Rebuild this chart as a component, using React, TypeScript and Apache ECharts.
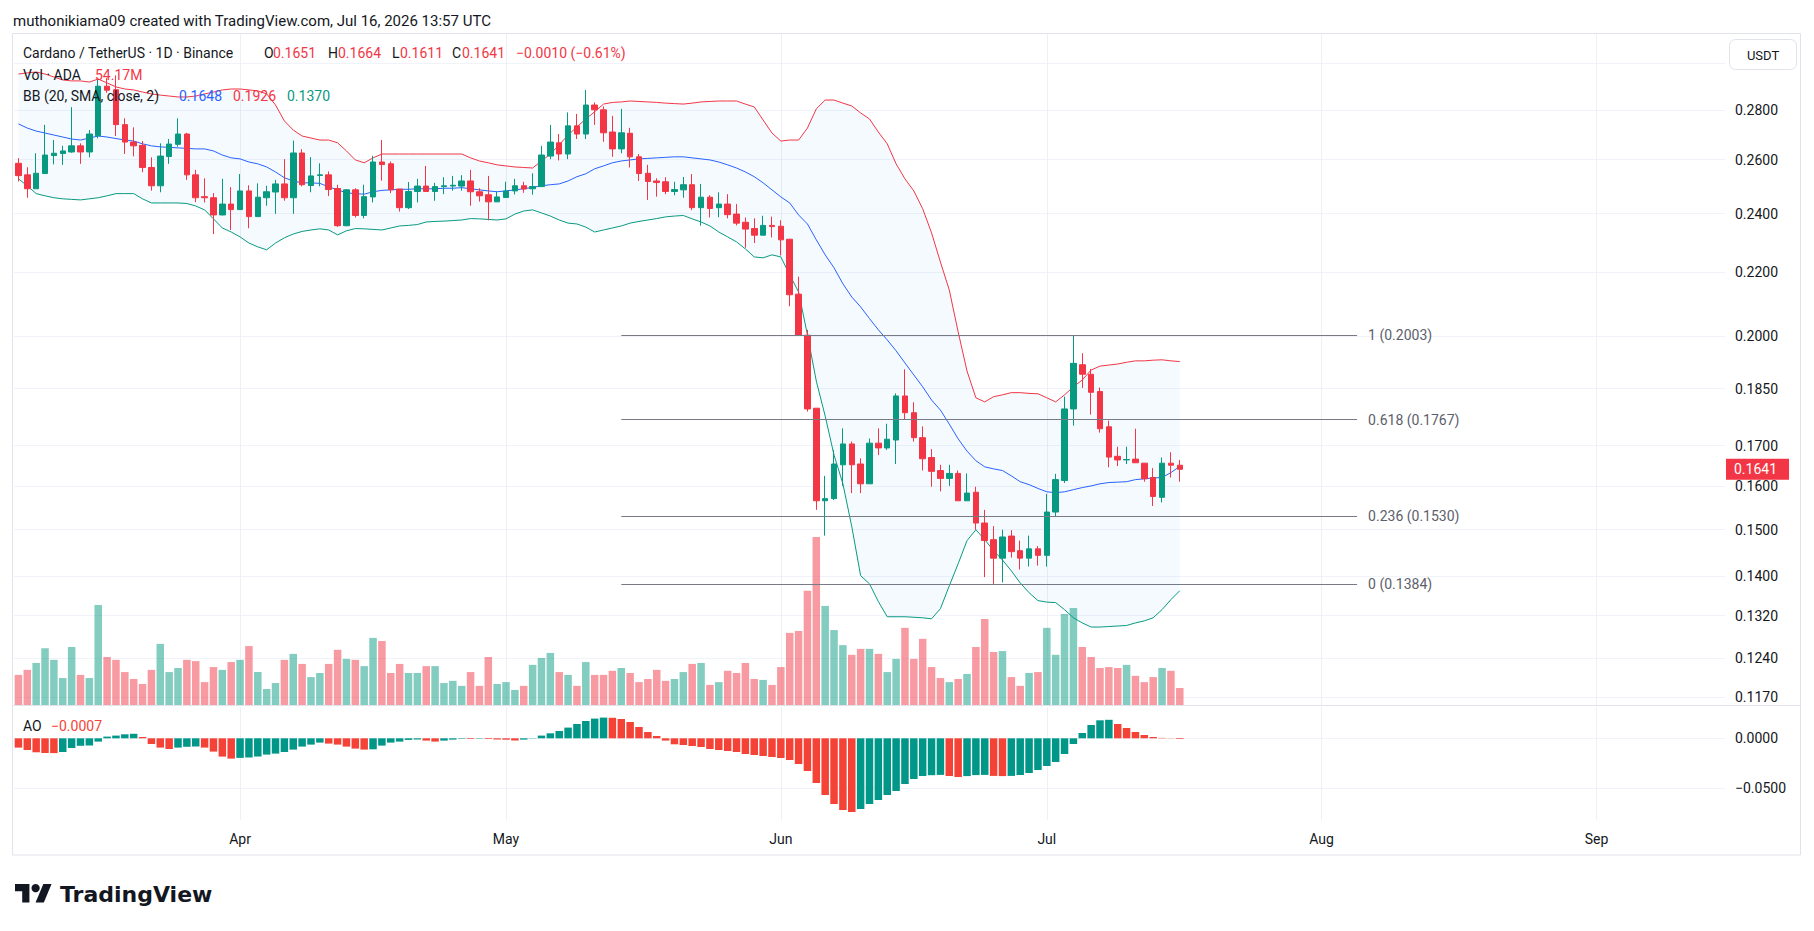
import React, { useEffect, useRef } from 'react';
import * as echarts from 'echarts';

const FONT = 'Roboto, "Noto Sans", "DejaVu Sans", sans-serif';
const TEXT = '#131722';
const UP = '#089981';
const DOWN = '#F23645';

const startDate = '2026-03-07';
const axisDays = 193;
const monthNames = ['Jan', 'Feb', 'Mar', 'Apr', 'May', 'Jun', 'Jul', 'Aug', 'Sep', 'Oct', 'Nov', 'Dec'];

// [open, high, low, close]
const ohlc: number[][] = [
  [0.2586, 0.2606, 0.2517, 0.2539], [0.2542, 0.2571, 0.2457, 0.2490], [0.2490, 0.2625, 0.2490, 0.2548], [0.2547, 0.2738, 0.2547, 0.2618], [0.2616, 0.2677, 0.2582, 0.2625],
  [0.2624, 0.2654, 0.2580, 0.2634], [0.2630, 0.2811, 0.2627, 0.2654], [0.2654, 0.2664, 0.2584, 0.2630], [0.2630, 0.2717, 0.2609, 0.2701], [0.2694, 0.2928, 0.2684, 0.2900],
  [0.2900, 0.2935, 0.2872, 0.2883], [0.2885, 0.2947, 0.2693, 0.2739], [0.2739, 0.2765, 0.2622, 0.2669], [0.2669, 0.2728, 0.2613, 0.2654], [0.2656, 0.2673, 0.2552, 0.2570],
  [0.2570, 0.2609, 0.2483, 0.2501], [0.2501, 0.2664, 0.2477, 0.2614], [0.2612, 0.2681, 0.2584, 0.2661], [0.2660, 0.2765, 0.2651, 0.2701], [0.2701, 0.2706, 0.2523, 0.2542],
  [0.2542, 0.2561, 0.2441, 0.2457], [0.2461, 0.2529, 0.2440, 0.2457], [0.2457, 0.2474, 0.2328, 0.2395], [0.2395, 0.2527, 0.2393, 0.2434], [0.2434, 0.2496, 0.2342, 0.2414],
  [0.2414, 0.2545, 0.2413, 0.2482], [0.2482, 0.2503, 0.2348, 0.2389], [0.2389, 0.2510, 0.2389, 0.2459], [0.2457, 0.2501, 0.2428, 0.2479], [0.2478, 0.2523, 0.2399, 0.2508],
  [0.2508, 0.2602, 0.2446, 0.2457], [0.2457, 0.2675, 0.2399, 0.2626], [0.2626, 0.2641, 0.2499, 0.2505], [0.2502, 0.2610, 0.2477, 0.2538], [0.2540, 0.2586, 0.2499, 0.2542],
  [0.2542, 0.2555, 0.2463, 0.2487], [0.2491, 0.2505, 0.2353, 0.2357], [0.2357, 0.2489, 0.2355, 0.2486], [0.2486, 0.2492, 0.2386, 0.2393], [0.2393, 0.2505, 0.2383, 0.2461],
  [0.2460, 0.2615, 0.2440, 0.2591], [0.2591, 0.2677, 0.2520, 0.2581], [0.2584, 0.2593, 0.2474, 0.2486], [0.2489, 0.2489, 0.2407, 0.2421], [0.2421, 0.2515, 0.2416, 0.2480],
  [0.2480, 0.2527, 0.2440, 0.2500], [0.2500, 0.2576, 0.2478, 0.2480], [0.2480, 0.2512, 0.2446, 0.2498], [0.2498, 0.2533, 0.2470, 0.2501], [0.2500, 0.2538, 0.2483, 0.2503],
  [0.2500, 0.2541, 0.2483, 0.2519], [0.2519, 0.2561, 0.2428, 0.2479], [0.2479, 0.2492, 0.2443, 0.2464], [0.2468, 0.2538, 0.2376, 0.2442], [0.2442, 0.2480, 0.2442, 0.2460],
  [0.2458, 0.2516, 0.2457, 0.2482], [0.2482, 0.2527, 0.2469, 0.2501], [0.2501, 0.2516, 0.2475, 0.2489], [0.2490, 0.2548, 0.2468, 0.2498], [0.2498, 0.2654, 0.2498, 0.2618],
  [0.2614, 0.2738, 0.2602, 0.2669], [0.2666, 0.2701, 0.2597, 0.2622], [0.2622, 0.2789, 0.2602, 0.2734], [0.2734, 0.2783, 0.2681, 0.2701], [0.2701, 0.2884, 0.2681, 0.2820],
  [0.2820, 0.2831, 0.2738, 0.2800], [0.2800, 0.2814, 0.2670, 0.2706], [0.2709, 0.2775, 0.2611, 0.2642], [0.2642, 0.2804, 0.2625, 0.2706], [0.2704, 0.2726, 0.2570, 0.2611],
  [0.2611, 0.2622, 0.2519, 0.2547], [0.2548, 0.2580, 0.2449, 0.2517], [0.2519, 0.2529, 0.2461, 0.2513], [0.2516, 0.2533, 0.2470, 0.2480], [0.2480, 0.2516, 0.2466, 0.2487],
  [0.2486, 0.2534, 0.2457, 0.2505], [0.2505, 0.2545, 0.2412, 0.2421], [0.2421, 0.2508, 0.2357, 0.2459], [0.2459, 0.2466, 0.2386, 0.2418], [0.2421, 0.2477, 0.2387, 0.2434],
  [0.2434, 0.2470, 0.2383, 0.2396], [0.2398, 0.2434, 0.2358, 0.2366], [0.2369, 0.2386, 0.2281, 0.2345], [0.2347, 0.2383, 0.2297, 0.2324], [0.2324, 0.2392, 0.2324, 0.2358],
  [0.2358, 0.2389, 0.2316, 0.2354], [0.2355, 0.2376, 0.2255, 0.2308], [0.2310, 0.2311, 0.2091, 0.2127], [0.2129, 0.2185, 0.2003, 0.2003], [0.2003, 0.2019, 0.1788, 0.1795],
  [0.1797, 0.1797, 0.1545, 0.1566], [0.1566, 0.1625, 0.1487, 0.1571], [0.1571, 0.1689, 0.1568, 0.1654], [0.1652, 0.1744, 0.1601, 0.1704], [0.1704, 0.1710, 0.1584, 0.1652],
  [0.1654, 0.1668, 0.1584, 0.1606], [0.1606, 0.1718, 0.1606, 0.1706], [0.1706, 0.1744, 0.1676, 0.1694], [0.1694, 0.1756, 0.1689, 0.1716], [0.1714, 0.1837, 0.1654, 0.1830],
  [0.1830, 0.1904, 0.1768, 0.1785], [0.1785, 0.1813, 0.1710, 0.1720], [0.1720, 0.1749, 0.1638, 0.1667], [0.1670, 0.1691, 0.1599, 0.1636], [0.1638, 0.1652, 0.1588, 0.1619],
  [0.1619, 0.1652, 0.1601, 0.1631], [0.1631, 0.1638, 0.1566, 0.1566], [0.1566, 0.1631, 0.1566, 0.1584], [0.1586, 0.1599, 0.1500, 0.1515], [0.1515, 0.1545, 0.1398, 0.1476],
  [0.1478, 0.1508, 0.1384, 0.1438], [0.1438, 0.1500, 0.1387, 0.1484], [0.1486, 0.1499, 0.1439, 0.1452], [0.1454, 0.1476, 0.1414, 0.1438], [0.1438, 0.1487, 0.1420, 0.1458],
  [0.1458, 0.1464, 0.1422, 0.1444], [0.1444, 0.1582, 0.1420, 0.1540], [0.1540, 0.1630, 0.1530, 0.1616], [0.1614, 0.1828, 0.1608, 0.1795], [0.1795, 0.2003, 0.1751, 0.1921],
  [0.1917, 0.1950, 0.1852, 0.1890], [0.1890, 0.1905, 0.1780, 0.1840], [0.1842, 0.1853, 0.1733, 0.1743], [0.1748, 0.1764, 0.1646, 0.1671], [0.1673, 0.1697, 0.1649, 0.1664],
  [0.1664, 0.1697, 0.1654, 0.1665], [0.1666, 0.1743, 0.1657, 0.1657], [0.1656, 0.1656, 0.1611, 0.1618], [0.1621, 0.1644, 0.1554, 0.1576], [0.1574, 0.1670, 0.1562, 0.1656],
  [0.1656, 0.1683, 0.1621, 0.1651], [0.1651, 0.1664, 0.1611, 0.1641],
];

// volume, millions of ADA
const volumeM = [
  96, 112, 134, 181, 144, 86, 185, 96, 86, 319,
  153, 144, 105, 83, 67, 112, 195, 105, 118, 144,
  140, 73, 121, 112, 137, 144, 188, 105, 51, 70,
  144, 163, 131, 89, 102, 131, 176, 147, 144, 124,
  214, 204, 102, 131, 102, 102, 124, 124, 70, 77,
  61, 105, 61, 153, 67, 73, 48, 61, 128, 150,
  166, 105, 96, 61, 137, 96, 96, 109, 118, 102,
  73, 83, 112, 77, 83, 105, 131, 134, 64, 73,
  109, 102, 134, 83, 80, 64, 121, 230, 236, 364,
  536, 316, 239, 191, 160, 179, 179, 163, 105, 147,
  246, 147, 211, 121, 86, 73, 83, 99, 185, 274,
  169, 172, 89, 61, 102, 105, 246, 160, 290, 309,
  185, 153, 118, 121, 118, 128, 93, 73, 89, 118,
  109, 54.17,
];

const aoValues = [
  -0.0093, -0.0117, -0.0140, -0.0147, -0.0148, -0.0137, -0.0097, -0.0075, -0.0072, -0.0033,
  0.0017, 0.0027, 0.0040, 0.0045, 0.0013, -0.0057, -0.0093, -0.0107, -0.0093, -0.0085,
  -0.0082, -0.0093, -0.0133, -0.0183, -0.0203, -0.0196, -0.0192, -0.0183, -0.0163, -0.0153,
  -0.0137, -0.0113, -0.0083, -0.0063, -0.0043, -0.0053, -0.0063, -0.0083, -0.0103, -0.0113,
  -0.0110, -0.0073, -0.0043, -0.0033, -0.0016, -0.0012, -0.0023, -0.0033, -0.0023, -0.0013,
  -0.0005, -0.0007, -0.0004, -0.0007, -0.0012, -0.0014, -0.0022, -0.0013, -0.0003, 0.0027,
  0.0050, 0.0073, 0.0107, 0.0143, 0.0173, 0.0197, 0.0207, 0.0205, 0.0193, 0.0163,
  0.0113, 0.0063, 0.0023, -0.0023, -0.0060, -0.0067, -0.0077, -0.0087, -0.0107, -0.0117,
  -0.0127, -0.0137, -0.0157, -0.0167, -0.0177, -0.0187, -0.0197, -0.0217, -0.0257, -0.0327,
  -0.0447, -0.0567, -0.0657, -0.0717, -0.0737, -0.0707, -0.0657, -0.0617, -0.0567, -0.0527,
  -0.0457, -0.0407, -0.0377, -0.0369, -0.0366, -0.0377, -0.0387, -0.0378, -0.0368, -0.0366,
  -0.0376, -0.0378, -0.0376, -0.0367, -0.0347, -0.0317, -0.0277, -0.0237, -0.0157, -0.0057,
  0.0053, 0.0133, 0.0180, 0.0185, 0.0143, 0.0103, 0.0063, 0.0033, 0.0013, 0.0004,
  0.0002, -0.0007,
];

const bbUpper = [
  0.2953, 0.2958, 0.2962, 0.2953, 0.2940, 0.2927, 0.2923, 0.2923, 0.2918, 0.2931,
  0.2914, 0.2897, 0.2888, 0.2884, 0.2875, 0.2867, 0.2862, 0.2858, 0.2854, 0.2854,
  0.2858, 0.2867, 0.2875, 0.2884, 0.2888, 0.2888, 0.2884, 0.2880, 0.2867, 0.2820,
  0.2754, 0.2717, 0.2693, 0.2685, 0.2677, 0.2677, 0.2666, 0.2634, 0.2599, 0.2588,
  0.2607, 0.2622, 0.2622, 0.2622, 0.2622, 0.2622, 0.2622, 0.2622, 0.2622, 0.2622,
  0.2622, 0.2607, 0.2595, 0.2588, 0.2580, 0.2576, 0.2572, 0.2570, 0.2568, 0.2595,
  0.2622, 0.2658, 0.2697, 0.2730, 0.2762, 0.2792, 0.2824, 0.2831, 0.2833, 0.2837,
  0.2835, 0.2833, 0.2831, 0.2828, 0.2826, 0.2824, 0.2828, 0.2833, 0.2835, 0.2837,
  0.2837, 0.2837, 0.2824, 0.2812, 0.2758, 0.2705, 0.2673, 0.2677, 0.2677, 0.2725,
  0.2804, 0.2841, 0.2841, 0.2828, 0.2816, 0.2787, 0.2762, 0.2709, 0.2662, 0.2584,
  0.2527, 0.2482, 0.2417, 0.2332, 0.2233, 0.2142, 0.2013, 0.1899, 0.1825, 0.1814,
  0.1828, 0.1833, 0.1839, 0.1839, 0.1837, 0.1836, 0.1825, 0.1814, 0.1833, 0.1855,
  0.1874, 0.1902, 0.1913, 0.1916, 0.1919, 0.1924, 0.1928, 0.1928, 0.1930, 0.1931,
  0.1928, 0.1926,
];

const bbBasis = [
  0.2742, 0.2725, 0.2713, 0.2705, 0.2697, 0.2689, 0.2681, 0.2677, 0.2685, 0.2693,
  0.2689, 0.2683, 0.2677, 0.2673, 0.2662, 0.2654, 0.2650, 0.2648, 0.2646, 0.2644,
  0.2642, 0.2642, 0.2634, 0.2618, 0.2607, 0.2603, 0.2591, 0.2584, 0.2572, 0.2553,
  0.2531, 0.2519, 0.2512, 0.2512, 0.2510, 0.2497, 0.2486, 0.2475, 0.2472, 0.2470,
  0.2479, 0.2484, 0.2486, 0.2488, 0.2488, 0.2490, 0.2490, 0.2490, 0.2492, 0.2492,
  0.2494, 0.2490, 0.2486, 0.2482, 0.2479, 0.2482, 0.2486, 0.2490, 0.2495, 0.2501,
  0.2505, 0.2508, 0.2519, 0.2535, 0.2546, 0.2565, 0.2576, 0.2588, 0.2595, 0.2599,
  0.2603, 0.2605, 0.2607, 0.2609, 0.2611, 0.2611, 0.2607, 0.2603, 0.2599, 0.2591,
  0.2580, 0.2568, 0.2553, 0.2535, 0.2512, 0.2486, 0.2460, 0.2438, 0.2395, 0.2363,
  0.2308, 0.2257, 0.2214, 0.2162, 0.2120, 0.2089, 0.2053, 0.2019, 0.1989, 0.1957,
  0.1922, 0.1888, 0.1855, 0.1819, 0.1792, 0.1755, 0.1717, 0.1686, 0.1662, 0.1647,
  0.1642, 0.1638, 0.1625, 0.1611, 0.1604, 0.1595, 0.1587, 0.1585, 0.1587, 0.1592,
  0.1597, 0.1601, 0.1606, 0.1609, 0.1610, 0.1611, 0.1616, 0.1618, 0.1620, 0.1621,
  0.1633, 0.1648,
];

const bbLower = [
  0.2527, 0.2501, 0.2472, 0.2464, 0.2457, 0.2453, 0.2451, 0.2449, 0.2453, 0.2457,
  0.2464, 0.2472, 0.2472, 0.2472, 0.2453, 0.2438, 0.2438, 0.2438, 0.2438, 0.2436,
  0.2427, 0.2413, 0.2381, 0.2349, 0.2335, 0.2318, 0.2297, 0.2284, 0.2274, 0.2297,
  0.2315, 0.2328, 0.2337, 0.2342, 0.2346, 0.2342, 0.2325, 0.2339, 0.2347, 0.2346,
  0.2344, 0.2342, 0.2349, 0.2356, 0.2358, 0.2361, 0.2370, 0.2372, 0.2373, 0.2375,
  0.2377, 0.2382, 0.2381, 0.2379, 0.2377, 0.2381, 0.2398, 0.2409, 0.2413, 0.2402,
  0.2391, 0.2377, 0.2366, 0.2363, 0.2352, 0.2335, 0.2342, 0.2349, 0.2356, 0.2366,
  0.2372, 0.2377, 0.2382, 0.2388, 0.2391, 0.2393, 0.2381, 0.2370, 0.2356, 0.2335,
  0.2318, 0.2301, 0.2277, 0.2250, 0.2247, 0.2257, 0.2250, 0.2191, 0.2136, 0.2004,
  0.1871, 0.1776, 0.1676, 0.1606, 0.1507, 0.1401, 0.1384, 0.1348, 0.1318, 0.1318,
  0.1318, 0.1317, 0.1316, 0.1314, 0.1334, 0.1380, 0.1426, 0.1476, 0.1500, 0.1478,
  0.1454, 0.1434, 0.1411, 0.1386, 0.1366, 0.1350, 0.1347, 0.1346, 0.1332, 0.1316,
  0.1306, 0.1298, 0.1298, 0.1299, 0.1300, 0.1301, 0.1306, 0.1310, 0.1316, 0.1332,
  0.1352, 0.1370,
];

const priceGridTicks = [0.3, 0.28, 0.26, 0.24, 0.22, 0.2, 0.185, 0.17, 0.16, 0.15, 0.14, 0.132, 0.124, 0.117];
const priceLabelTicks = [0.28, 0.26, 0.24, 0.22, 0.2, 0.185, 0.17, 0.16, 0.15, 0.14, 0.132, 0.124, 0.117];
const priceMin = 0.1156;
const priceMax = 0.3134;
const volumeMax = 2140;
const aoMin = -0.0817;
const aoMax = 0.0313;
const aoTicks = [0, -0.05];

const fibLevels = ['1', '0.618', '0.236', '0'];
const fibPrices = [0.2003, 0.1767, 0.153, 0.1384];
const fibFromIndex = 68;
const fibToIndex = 151;

const headerText = 'muthonikiama09 created with TradingView.com, Jul 16, 2026 13:57 UTC';
const symbolText = 'Cardano / TetherUS \u00b7 1D \u00b7 Binance';

function buildDates(): string[] {
  const [y, m, d] = startDate.split('-').map(Number);
  const out: string[] = [];
  for (let i = 0; i < axisDays; i++) {
    out.push(new Date(Date.UTC(y, m - 1, d + i)).toISOString().slice(0, 10));
  }
  return out;
}

const signed = (v: number, digits: number) => (v < 0 ? '\u2212' : '+') + Math.abs(v).toFixed(digits);
const plain = (v: number, digits: number) => (v < 0 ? '\u2212' : '') + Math.abs(v).toFixed(digits);

function buildOption() {
  const ln = Math.log;
  const dates = buildDates();
  const monthStarts = dates.filter((d) => d.endsWith('-01'));
  const candles = ohlc.map(([o, h, l, c]) => [ln(o), ln(c), ln(l), ln(h)]);
  const volData = volumeM.map((v, i) => ({
    value: v,
    itemStyle: { color: ohlc[i][3] >= ohlc[i][0] ? 'rgba(8,153,129,0.5)' : 'rgba(242,54,69,0.5)' },
  }));
  const aoData = aoValues.map((v, i) => ({
    value: v,
    itemStyle: { color: i > 0 && v >= aoValues[i - 1] ? '#009688' : '#F44336' },
  }));
  const last = ohlc[ohlc.length - 1];
  const prevClose = ohlc[ohlc.length - 2][3];
  const change = last[3] - prevClose;
  const pct = (change / prevClose) * 100;

  const monthLines = {
    silent: true,
    symbol: ['none', 'none'],
    label: { show: false },
    z: 0,
    lineStyle: { color: '#EEF0F3', width: 1, type: 'solid' },
    emphasis: { disabled: true },
    data: monthStarts.map((d) => ({ xAxis: d })),
  };

  const fibLines = fibPrices.map((p, k) => [
    {
      coord: [dates[fibFromIndex], ln(p)],
      name: `${fibLevels[k]} (${p.toFixed(4)})`,
      lineStyle: { color: '#787B86', width: 1, type: 'solid' },
      label: {
        show: true,
        position: 'end',
        distance: 11,
        formatter: `${fibLevels[k]} (${p.toFixed(4)})`,
        color: '#5d606b',
        fontSize: 14,
        fontFamily: FONT,
      },
    },
    { coord: [dates[fibToIndex], ln(p)] },
  ]);

  const txt = (x: number, y: number, text: string, fill: string, size = 14, extra: any = {}) => ({
    type: 'text',
    x,
    y,
    z: 100,
    silent: true,
    style: { text, fill, font: `${size}px ${FONT}`, align: 'left', verticalAlign: 'middle', ...extra },
  });

  const lx = (v: number) => 15 + v * 1.03;
  const ly = (v: number) => 884 + (v - 4) * 1.03;

  const graphic = [
    { type: 'rect', z: 50, silent: true, shape: { x: 12.5, y: 33.5, width: 1788, height: 821.5 }, style: { fill: 'none', stroke: '#E0E3EB', lineWidth: 1 } },
    { type: 'line', z: 50, silent: true, shape: { x1: 13, y1: 705.5, x2: 1800.5, y2: 705.5 }, style: { stroke: '#E0E3EB', lineWidth: 1 } },
    { type: 'rect', z: 100, silent: true, shape: { x: 1729.5, y: 39.5, width: 67, height: 30, r: 6 }, style: { fill: '#ffffff', stroke: '#E0E3EB', lineWidth: 1 } },
    txt(1763, 55, 'USDT', TEXT, 13, { align: 'center' }),
    txt(13, 20.5, headerText, TEXT, 15),
    txt(23, 53, symbolText, TEXT, 14),
    txt(264, 53, 'O', TEXT, 14),
    txt(273, 53, last[0].toFixed(4), DOWN, 14),
    txt(328, 53, 'H', TEXT, 14),
    txt(338, 53, last[1].toFixed(4), DOWN, 14),
    txt(392, 53, 'L', TEXT, 14),
    txt(400, 53, last[2].toFixed(4), DOWN, 14),
    txt(452, 53, 'C', TEXT, 14),
    txt(462, 53, last[3].toFixed(4), DOWN, 14),
    txt(516, 53, `${signed(change, 4)} (${signed(pct, 2)}%)`, DOWN, 14),
    txt(23, 75, 'Vol \u00b7 ADA', TEXT, 14),
    txt(95, 75, `${volumeM[volumeM.length - 1].toFixed(2)}M`, DOWN, 14),
    txt(23, 96, 'BB (20, SMA, close, 2)', TEXT, 14),
    txt(179, 96, bbBasis[bbBasis.length - 1].toFixed(4), '#2962FF', 14),
    txt(233, 96, bbUpper[bbUpper.length - 1].toFixed(4), DOWN, 14),
    txt(287, 96, bbLower[bbLower.length - 1].toFixed(4), UP, 14),
    txt(23, 726, 'AO', TEXT, 14),
    txt(51, 726, plain(aoValues[aoValues.length - 1], 4), '#F44336', 14),
    {
      type: 'polygon', z: 100, silent: true,
      shape: { points: [[lx(0), ly(4)], [lx(14), ly(4)], [lx(14), ly(22)], [lx(7), ly(22)], [lx(7), ly(11)], [lx(0), ly(11)]] },
      style: { fill: TEXT },
    },
    { type: 'circle', z: 100, silent: true, shape: { cx: lx(20), cy: ly(8), r: 4 * 1.03 }, style: { fill: TEXT } },
    {
      type: 'polygon', z: 100, silent: true,
      shape: { points: [[lx(27.5), ly(4)], [lx(35.5), ly(4)], [lx(28), ly(22)], [lx(20), ly(22)]] },
      style: { fill: TEXT },
    },
    {
      type: 'text', x: 60, y: 894, z: 100, silent: true,
      style: { text: 'TradingView', fill: TEXT, font: 'bold 22px "DejaVu Sans", sans-serif', align: 'left', verticalAlign: 'middle' },
    },
  ];

  const xAxisBase = (gi: number) => ({
    type: 'category',
    gridIndex: gi,
    data: dates,
    boundaryGap: true,
    axisLine: { show: false },
    axisTick: { show: false },
    splitLine: { show: false },
    axisLabel:
      gi === 2
        ? {
            show: true,
            interval: (_i: number, v: string) => v.endsWith('-01'),
            formatter: (v: string) => monthNames[Number(v.slice(5, 7)) - 1],
            color: TEXT,
            fontSize: 14,
            fontFamily: FONT,
            margin: 12,
          }
        : { show: false },
  });

  return {
    animation: false,
    backgroundColor: '#ffffff',
    grid: [
      { left: 14, top: 34, width: 1711, height: 671 },
      { left: 14, top: 34, width: 1711, height: 671 },
      { left: 14, top: 707, width: 1711, height: 113 },
    ],
    xAxis: [xAxisBase(0), xAxisBase(1), xAxisBase(2)],
    yAxis: [
      {
        type: 'value',
        gridIndex: 0,
        position: 'right',
        min: ln(priceMin),
        max: ln(priceMax),
        axisLine: { show: false },
        axisTick: { show: false, customValues: priceGridTicks.map(ln) },
        splitLine: { show: true, lineStyle: { color: '#F0F3FA', width: 1 } },
        axisLabel: {
          customValues: priceLabelTicks.map(ln),
          formatter: (v: number) => Math.exp(v).toFixed(4),
          color: TEXT,
          fontSize: 14,
          fontFamily: FONT,
          margin: 10,
        },
      },
      { type: 'value', gridIndex: 1, min: 0, max: volumeMax, show: false },
      {
        type: 'value',
        gridIndex: 2,
        position: 'right',
        min: aoMin,
        max: aoMax,
        axisLine: { show: false },
        axisTick: { show: false, customValues: aoTicks },
        splitLine: { show: true, lineStyle: { color: '#F0F3FA', width: 1 } },
        axisLabel: {
          customValues: aoTicks,
          formatter: (v: number) => plain(v, 4),
          color: TEXT,
          fontSize: 14,
          fontFamily: FONT,
          margin: 10,
        },
      },
      {
        // last price tag on the price scale
        type: 'value',
        gridIndex: 0,
        position: 'right',
        offset: 0,
        min: ln(priceMin),
        max: ln(priceMax),
        axisLine: { show: false },
        axisTick: { show: false, customValues: [ln(last[3])] },
        splitLine: { show: false },
        z: 20,
        axisLabel: {
          customValues: [ln(last[3])],
          formatter: (v: number) => Math.exp(v).toFixed(4),
          color: '#ffffff',
          backgroundColor: DOWN,
          padding: [4, 12, 3, 8],
          fontSize: 14,
          fontFamily: FONT,
          margin: 1,
        },
      },
    ],
    graphic,
    series: [
      {
        name: 'Volume',
        type: 'bar',
        xAxisIndex: 1,
        yAxisIndex: 1,
        data: volData,
        barWidth: 7.5,
        z: 1,
        silent: true,
        markLine: monthLines,
      },
      {
        name: 'bbBase',
        type: 'line',
        xAxisIndex: 0,
        yAxisIndex: 0,
        stack: 'bb',
        stackStrategy: 'all',
        data: bbLower.map(ln),
        symbol: 'none',
        lineStyle: { opacity: 0 },
        z: 1,
        silent: true,
      },
      {
        name: 'bbFill',
        type: 'line',
        xAxisIndex: 0,
        yAxisIndex: 0,
        stack: 'bb',
        stackStrategy: 'all',
        data: bbUpper.map((u, i) => ln(u) - ln(bbLower[i])),
        symbol: 'none',
        lineStyle: { opacity: 0 },
        areaStyle: { color: 'rgba(33,150,243,0.05)', opacity: 1 },
        z: 1,
        silent: true,
      },
      {
        name: 'Upper',
        type: 'line',
        xAxisIndex: 0,
        yAxisIndex: 0,
        data: bbUpper.map(ln),
        symbol: 'none',
        lineStyle: { color: DOWN, width: 1 },
        z: 2,
        silent: true,
      },
      {
        name: 'Basis',
        type: 'line',
        xAxisIndex: 0,
        yAxisIndex: 0,
        data: bbBasis.map(ln),
        symbol: 'none',
        lineStyle: { color: '#2962FF', width: 1 },
        z: 2,
        silent: true,
      },
      {
        name: 'Lower',
        type: 'line',
        xAxisIndex: 0,
        yAxisIndex: 0,
        data: bbLower.map(ln),
        symbol: 'none',
        lineStyle: { color: UP, width: 1 },
        z: 2,
        silent: true,
      },
      {
        name: 'ADAUSDT',
        type: 'candlestick',
        xAxisIndex: 0,
        yAxisIndex: 0,
        data: candles,
        barWidth: 6,
        z: 3,
        silent: true,
        itemStyle: { color: UP, color0: DOWN, borderColor: UP, borderColor0: DOWN, borderWidth: 1 },
        markLine: {
          silent: true,
          symbol: ['none', 'none'],
          z: 4,
          emphasis: { disabled: true },
          data: fibLines,
        },
      },
      {
        name: 'AO',
        type: 'bar',
        xAxisIndex: 2,
        yAxisIndex: 2,
        data: aoData,
        barWidth: 7.5,
        z: 2,
        silent: true,
        markLine: monthLines,
      },
    ],
  };
}

export default function App() {
  const ref = useRef<HTMLDivElement>(null);
  useEffect(() => {
    if (!ref.current) return;
    const chart = echarts.init(ref.current, null, { renderer: 'svg' });
    chart.setOption(buildOption() as any);
    return () => chart.dispose();
  }, []);
  return (
    <div
      ref={ref}
      style={{ position: 'fixed', left: 0, top: 0, width: 1814, height: 931, background: '#ffffff' }}
    />
  );
}
